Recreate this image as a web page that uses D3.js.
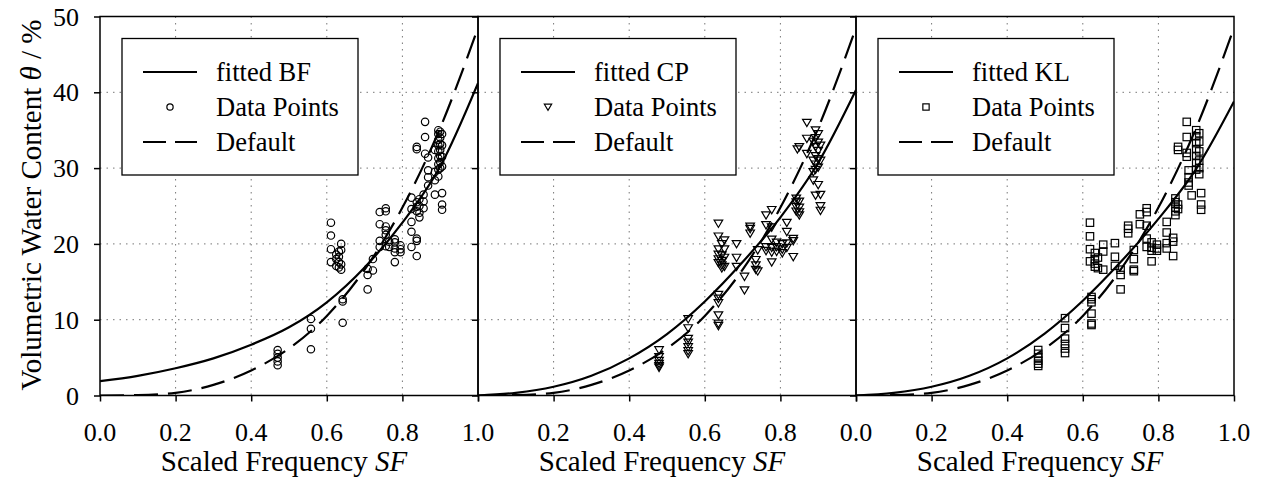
<!DOCTYPE html>
<html><head><meta charset="utf-8">
<script src="https://cdn.jsdelivr.net/npm/d3@7"></script>
<style>body{margin:0;background:#fff}svg{display:block}</style>
</head><body><svg id="c" width="1262" height="485"></svg>
<script>
// ---------- data ----------
const panelNames = ["BF", "CP", "KL"];
const xTicks = [0, 0.2, 0.4, 0.6, 0.8, 1.0];
const yTicks = [0, 10, 20, 30, 40, 50];
const sfGrid = [0, 0.1, 0.2, 0.3, 0.4, 0.5, 0.6, 0.7, 0.8, 0.9, 1.0];
const defaultCurve = [0, 0.05, 0.35, 1.4, 3.3, 6.2, 10.5, 16.6, 24.8, 35.3, 48.5];
const bfCurve = [1.9, 2.6, 3.6, 4.9, 6.7, 9.0, 12.3, 16.9, 22.8, 30.2, 41.2];
const cpCurve = [0, 0.35, 1.15, 2.6, 4.9, 8.1, 12.4, 17.6, 23.5, 30.7, 40.3];
const klCurve = [0, 0.35, 1.15, 2.6, 4.9, 8.2, 12.5, 17.6, 23.3, 29.9, 38.8];

// points grouped as [SF, [theta values]]
const bfPoints = [
  [0.470, [6.0, 5.5, 5.0, 4.5, 4.0]],
  [0.558, [10.1, 8.8, 6.1]],
  [0.611, [22.8, 21.1, 19.3, 17.6]],
  [0.625, [18.6, 18.0, 17.1]],
  [0.632, [19.0, 18.3, 17.6, 16.9]],
  [0.638, [20.0, 19.2, 17.3, 16.6]],
  [0.642, [12.7, 12.4, 9.6]],
  [0.708, [16.7, 15.9, 14.0]],
  [0.722, [18.0, 16.5]],
  [0.740, [24.2, 22.6, 20.4, 19.6]],
  [0.756, [24.7, 24.3, 22.3, 21.8, 21.2, 19.7]],
  [0.765, [20.3, 19.6]],
  [0.780, [20.6, 20.2, 19.4, 18.9, 17.6]],
  [0.795, [19.8, 19.3, 18.9]],
  [0.824, [26.1, 24.6, 22.9, 21.6, 19.6]],
  [0.838, [32.8, 32.5, 25.5, 24.9, 24.3, 20.7, 20.4, 18.4]],
  [0.845, [25.9, 25.0, 24.1, 23.5]],
  [0.856, [26.5, 25.6, 24.7]],
  [0.860, [36.1, 34.1, 31.9]],
  [0.868, [29.7, 28.8, 27.7, 31.4]],
  [0.886, [32.4, 29.5, 28.4, 26.5]],
  [0.895, [35.0, 34.5, 33.7, 33.0, 32.2, 31.3, 30.5, 29.8, 28.9]],
  [0.900, [34.8, 34.0, 33.2, 32.4, 31.6, 30.8, 30.0]],
  [0.905, [34.5, 33.0, 31.5, 30.2, 26.7, 25.2, 24.5]]
];
const cpPoints = [
  [0.479, [6.0, 5.1, 4.6, 4.2, 3.9, 3.7]],
  [0.556, [10.1, 8.9, 7.5, 7.0, 6.4, 5.9, 5.5]],
  [0.636, [22.7, 21.0, 19.3, 18.6, 18.0, 17.5, 13.3, 12.8, 12.2, 10.6, 9.5, 9.2]],
  [0.645, [20.0, 18.5, 17.8, 17.2, 16.8]],
  [0.652, [20.5, 19.3, 18.2, 17.0]],
  [0.684, [20.0, 18.2, 17.0]],
  [0.705, [15.7, 13.9]],
  [0.720, [22.3, 22.0, 21.4]],
  [0.735, [17.9, 17.2, 16.6]],
  [0.740, [19.2, 16.4]],
  [0.762, [23.8, 22.5, 19.6, 19.1]],
  [0.777, [24.5, 22.2, 20.6, 19.5, 18.9, 17.6]],
  [0.790, [20.2, 19.6, 19.0]],
  [0.805, [20.0, 19.3, 18.8]],
  [0.817, [22.8, 21.6, 20.1, 19.5]],
  [0.834, [20.7, 20.4, 18.3]],
  [0.842, [26.0, 25.5, 24.9, 24.3]],
  [0.845, [32.5]],
  [0.850, [25.6, 24.8, 24.2, 23.8, 32.8]],
  [0.870, [36.0, 33.9, 31.9]],
  [0.887, [33.5, 31.0, 29.5, 28.4]],
  [0.893, [35.0, 34.0, 32.8, 31.6, 30.5, 29.8, 26.4]],
  [0.900, [34.5, 33.4, 32.3, 31.2, 30.1, 27.8]],
  [0.906, [26.5, 25.0, 24.4, 33.0, 31.0]]
];
const klPoints = [
  [0.482, [6.0, 5.5, 5.0, 4.6, 4.2, 3.9]],
  [0.553, [10.2, 8.9, 7.5, 6.8, 6.2, 5.6]],
  [0.619, [22.8, 21.0, 19.3, 17.7]],
  [0.623, [13.0, 12.7, 12.3, 10.8, 9.5, 9.3]],
  [0.632, [18.8, 18.0, 17.4, 17.0]],
  [0.640, [18.2, 16.8]],
  [0.654, [19.9, 19.0, 16.6]],
  [0.685, [20.1, 18.3, 17.1]],
  [0.700, [16.6, 15.9, 14.0]],
  [0.720, [22.4, 22.0, 21.4]],
  [0.735, [19.2, 18.0, 16.6, 16.4]],
  [0.751, [23.9, 22.6]],
  [0.769, [24.7, 24.2, 22.4, 20.7, 19.6]],
  [0.782, [20.2, 19.5, 19.1, 17.7]],
  [0.796, [19.9, 19.4, 19.1]],
  [0.822, [22.9, 21.5, 20.1, 19.4]],
  [0.839, [20.8, 20.3, 18.4]],
  [0.845, [26.0, 25.5, 24.8, 24.3, 23.8]],
  [0.852, [32.8, 32.4, 25.2, 24.6]],
  [0.875, [36.1, 34.1, 32.0, 31.5]],
  [0.880, [29.7, 28.8, 28.1, 27.7]],
  [0.888, [26.4]],
  [0.900, [35.0, 34.2, 33.3, 32.5, 31.6, 30.7, 29.8]],
  [0.908, [34.6, 33.5, 32.2, 31.0, 30.0, 29.2]],
  [0.913, [26.7, 25.2, 24.5]]
];
const legendLabels = ["fitted", "Data Points", "Default"];

// ---------- layout ----------
const svg = d3.select("#c");
const yTop = 16.5, yBottom = 395.5, pw = 378, left0 = 100;
const font = "'Liberation Serif','Times New Roman',serif";
const panels = [
  {name: panelNames[0], curve: bfCurve, pts: bfPoints, shape: "circle", xlab: xTicks},
  {name: panelNames[1], curve: cpCurve, pts: cpPoints, shape: "tri", xlab: [0.2, 0.4, 0.6, 0.8]},
  {name: panelNames[2], curve: klCurve, pts: klPoints, shape: "square", xlab: xTicks}
];
const y = d3.scaleLinear().domain([0, 50]).range([yBottom, yTop]);

function marker(g, shape, cx, cy, s) {
  if (shape === "circle") {
    g.append("circle").attr("cx", cx).attr("cy", cy).attr("r", 3.7 * s);
  } else if (shape === "tri") {
    g.append("path").attr("d", `M${cx - 4.3 * s},${cy - 3.3 * s}L${cx + 4.3 * s},${cy - 3.3 * s}L${cx},${cy + 4 * s}Z`);
  } else {
    g.append("rect").attr("x", cx - 3.7 * s).attr("y", cy - 3.7 * s).attr("width", 7.4 * s).attr("height", 7.4 * s);
  }
}

panels.forEach((p, i) => {
  const x0 = left0 + i * pw;
  const x = d3.scaleLinear().domain([0, 1]).range([x0, x0 + pw]);
  const g = svg.append("g");

  // grid
  g.append("g").selectAll("line").data([0.2, 0.4, 0.6, 0.8]).join("line")
    .attr("x1", d => x(d)).attr("x2", d => x(d)).attr("y1", yTop).attr("y2", yBottom)
    .attr("stroke", "#777").attr("stroke-width", 1).attr("stroke-dasharray", "1.5,5");
  g.append("g").selectAll("line").data([10, 20, 30, 40]).join("line")
    .attr("y1", d => y(d)).attr("y2", d => y(d)).attr("x1", x0).attr("x2", x0 + pw)
    .attr("stroke", "#777").attr("stroke-width", 1).attr("stroke-dasharray", "1.5,5");

  // clip
  const cid = "clip" + i;
  svg.append("clipPath").attr("id", cid).append("rect")
    .attr("x", x0).attr("y", yTop).attr("width", pw).attr("height", yBottom - yTop);

  // axes
  const xa = g.append("g").attr("transform", `translate(0,${yBottom})`)
    .call(d3.axisBottom(x).tickValues(xTicks).tickSize(6).tickFormat(""));
  xa.select(".domain").remove();
  xa.selectAll("line").attr("stroke", "#000").attr("stroke-width", 1.5);
  const ya = g.append("g").attr("transform", `translate(${x0},0)`)
    .call(d3.axisLeft(y).tickValues(yTicks).tickSize(6).tickFormat(""));
  ya.select(".domain").remove();
  ya.selectAll("line").attr("stroke", "#000").attr("stroke-width", 1.5);

  // x tick labels
  g.append("g").selectAll("text").data(p.xlab).join("text")
    .attr("x", d => x(d)).attr("y", 441).attr("text-anchor", "middle")
    .attr("font-family", font).attr("font-size", 26).text(d => d3.format(".1f")(d));
  if (i === 0) {
    g.append("g").selectAll("text").data(yTicks).join("text")
      .attr("x", 79).attr("y", d => y(d) + 9).attr("text-anchor", "end")
      .attr("font-family", font).attr("font-size", 26).text(d => d);
  }
  // x title
  const xt = g.append("text").attr("x", x(0.5) - 5).attr("y", 471).attr("text-anchor", "middle")
    .attr("font-family", font).attr("font-size", 29);
  xt.append("tspan").text("Scaled Frequency ");
  xt.append("tspan").attr("font-style", "italic").text("SF");

  // data points
  const flat = p.pts.flatMap(([sf, ths]) => ths.map(t => [sf, t]));
  const pg = g.append("g").attr("clip-path", `url(#${cid})`)
    .attr("fill", "none").attr("stroke", "#000").attr("stroke-width", 1.2);
  flat.forEach(d => marker(pg, p.shape, x(d[0]), y(d[1]), 1));

  // curves
  const line = d3.line().x((d, k) => x(sfGrid[k])).y(d => y(d)).curve(d3.curveMonotoneX);
  const cg = g.append("g").attr("clip-path", `url(#${cid})`).attr("fill", "none").attr("stroke", "#000").attr("stroke-width", 2.2);
  cg.append("path").attr("d", line(defaultCurve)).attr("stroke-dasharray", "24,10");
  cg.append("path").attr("d", line(p.curve));

  // frame
  g.append("rect").attr("x", x0).attr("y", yTop).attr("width", pw).attr("height", yBottom - yTop)
    .attr("fill", "none").attr("stroke", "#000").attr("stroke-width", 1.5);

  // legend
  const lg = g.append("g").attr("transform", `translate(${x0 + 22},38.5)`);
  lg.append("rect").attr("width", 236).attr("height", 136.5).attr("fill", "#fff")
    .attr("stroke", "#000").attr("stroke-width", 1.3);
  const rows = [33.5, 68.5, 103.5];
  lg.append("line").attr("x1", 21).attr("x2", 75).attr("y1", rows[0]).attr("y2", rows[0])
    .attr("stroke", "#000").attr("stroke-width", 2.2);
  const mg = lg.append("g").attr("fill", "none").attr("stroke", "#000").attr("stroke-width", 1.2);
  marker(mg, p.shape, 48, rows[1], 0.85);
  lg.append("line").attr("x1", 21).attr("x2", 75).attr("y1", rows[2]).attr("y2", rows[2])
    .attr("stroke", "#000").attr("stroke-width", 2.2).attr("stroke-dasharray", "23,9");
  [legendLabels[0] + " " + p.name, legendLabels[1], legendLabels[2]].forEach((t, k) => {
    lg.append("text").attr("x", 94).attr("y", rows[k] + 9).attr("font-family", font)
      .attr("font-size", 26.5).text(t);
  });
});

// y title
const yt = svg.append("text").attr("transform", "translate(41,205) rotate(-90)")
  .attr("text-anchor", "middle").attr("font-family", font).attr("font-size", 29);
yt.append("tspan").text("Volumetric Water Content ");
yt.append("tspan").attr("font-style", "italic").text("θ");
yt.append("tspan").text(" / %");
</script>
</body></html>
